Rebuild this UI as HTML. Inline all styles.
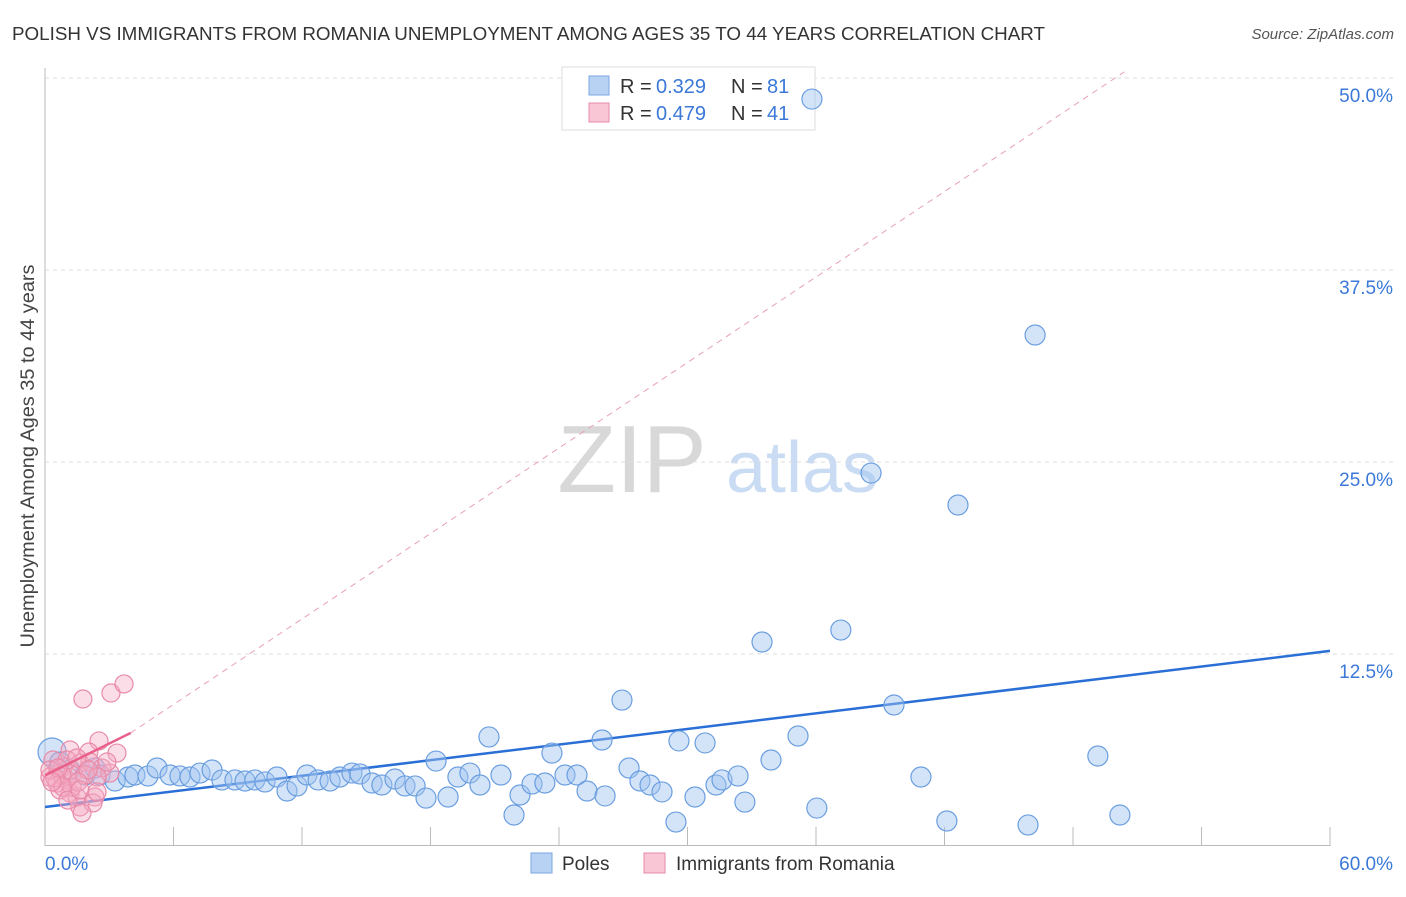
<!DOCTYPE html>
<html><head><meta charset="utf-8"><style>
body{margin:0;background:#fff;font-family:"Liberation Sans",sans-serif;}
svg text{font-family:"Liberation Sans",sans-serif;}
</style></head><body>
<svg id="chart" width="1406" height="892">
<text x="12" y="40" font-size="18" fill="#333" textLength="1033" lengthAdjust="spacingAndGlyphs">POLISH VS IMMIGRANTS FROM ROMANIA UNEMPLOYMENT AMONG AGES 35 TO 44 YEARS CORRELATION CHART</text>
<text x="1394" y="39" font-size="15" fill="#555" text-anchor="end" font-style="italic">Source: ZipAtlas.com</text>
<text x="34" y="456" font-size="19" fill="#444" text-anchor="middle" textLength="383" lengthAdjust="spacingAndGlyphs" transform="rotate(-90 34 456)">Unemployment Among Ages 35 to 44 years</text>
<g>
<text x="632" y="492" font-size="96" fill="#d8d8d8" text-anchor="middle" font-family="Liberation Serif,serif">ZIP</text>
<text x="802" y="492" font-size="72" fill="#c9dcf3" text-anchor="middle">atlas</text>
</g>
<g id="grid"></g><g id="axes"></g><g id="lines"></g>
<g>
<rect x="562" y="67" width="253" height="63" fill="#fff" stroke="#ddd"/>
<rect x="589" y="76" width="20" height="19" fill="#b8d2f4" stroke="#7aa6e0"/>
<rect x="589" y="103" width="20" height="19" fill="#f9c6d5" stroke="#e88aa8"/>
<text x="620" y="93" font-size="20" fill="#333">R =</text>
<text x="656" y="93" font-size="20" fill="#3b78d8">0.329</text>
<text x="731" y="93" font-size="20" fill="#333">N =</text>
<text x="767" y="93" font-size="20" fill="#3b78d8">81</text>
<text x="620" y="120" font-size="20" fill="#333">R =</text>
<text x="656" y="120" font-size="20" fill="#3b78d8">0.479</text>
<text x="731" y="120" font-size="20" fill="#333">N =</text>
<text x="767" y="120" font-size="20" fill="#3b78d8">41</text>
</g>
<g id="pts"></g>
<g>
<rect x="531" y="853" width="21" height="20" fill="#b8d2f4" stroke="#7aa6e0"/>
<text x="562" y="870" font-size="19" fill="#333">Poles</text>
<rect x="644" y="853" width="21" height="20" fill="#f9c6d5" stroke="#e88aa8"/>
<text x="676" y="870" font-size="19" fill="#333">Immigrants from Romania</text>
</g>
</svg>
<script>
const xTicks=[0,60];
const yTicks=[12.5,25,37.5,50];
const polesX=[0.33,0.70,1.17,1.87,2.33,2.57,3.27,3.88,4.20,4.81,5.23,5.84,6.30,6.77,7.24,7.80,8.26,8.87,9.34,9.80,10.27,10.83,11.30,11.77,12.23,12.75,13.31,13.77,14.33,14.71,15.27,15.73,16.34,16.81,17.28,17.79,18.26,18.82,19.28,19.84,20.31,20.73,21.29,21.90,22.18,22.74,23.34,23.67,24.28,24.84,25.31,26.15,26.01,26.94,27.27,27.78,28.25,28.81,29.46,29.60,30.35,30.82,31.33,31.61,32.36,32.68,33.48,33.90,35.16,35.81,36.04,37.16,38.57,39.64,40.90,42.11,42.63,45.90,46.23,49.16,50.19];
const polesY=[6.12,5.47,4.95,4.62,5.08,4.62,4.23,4.49,4.62,4.56,5.08,4.62,4.56,4.49,4.75,4.95,4.30,4.30,4.23,4.30,4.17,4.49,3.58,3.91,4.62,4.30,4.23,4.49,4.75,4.69,4.10,3.97,4.36,3.91,3.91,3.12,5.53,3.19,4.49,4.75,3.97,7.10,4.62,2.02,3.32,4.04,4.10,6.05,4.62,4.62,3.58,3.26,6.90,9.50,5.08,4.23,3.97,3.52,1.56,6.84,3.19,6.71,3.97,4.30,4.56,2.86,13.28,5.60,7.16,48.63,2.47,14.06,24.28,9.18,4.49,1.63,22.20,1.37,33.27,5.86,2.02];
const romX=[1.77,3.08,3.69,2.52,3.36,2.05,1.17,0.37,0.84,1.63,2.10,2.66,3.03,0.23,0.56,1.03,1.31,0.70,1.17,1.49,2.33,1.63,2.24,1.73,0.23,0.79,1.87,2.43,0.47,1.03,1.49,1.26,0.84,0.61,2.01,2.89,0.33,1.54,1.07,1.63,2.43];
const romY=[9.57,9.96,10.55,6.84,6.05,6.12,6.25,5.60,5.14,5.40,5.47,5.08,4.75,4.49,4.10,4.30,4.75,3.65,3.45,3.19,3.19,2.54,2.80,2.15,4.95,4.62,4.62,4.49,4.43,5.60,5.73,3.84,3.84,5.08,4.95,5.47,4.17,4.17,2.99,3.65,3.52];
const polesFit=[2.54,12.7];
const romFit=[4.6,7.36,50.4];
const NS='http://www.w3.org/2000/svg';
const X=v=>45+v/60*1285, Y=v=>846-v/12.5*192;
function mk(t,a,p){const e=document.createElementNS(NS,t);for(const k in a)e.setAttribute(k,a[k]);p.appendChild(e);return e;}
const grid=document.getElementById('grid'),axes=document.getElementById('axes'),lines=document.getElementById('lines'),pts=document.getElementById('pts');
yTicks.forEach(v=>{
 const l=mk('line',{x1:45,x2:1395,y1:Y(v),y2:Y(v),stroke:'#ddd','stroke-dasharray':'4,4'},grid);
 
 
 const t=mk('text',{x:1393,y:Y(v)+24,'font-size':19,fill:'#3b78d8','text-anchor':'end'},axes);
 t.textContent=v.toFixed(1)+'%';
 
 
});
mk('line',{x1:45,x2:45,y1:68,y2:846,stroke:'#bbb'},axes);
mk('line',{x1:45,x2:1330,y1:845.5,y2:845.5,stroke:'#bbb'},axes);
for(let i=0;i<=10;i++){const x=X(i*6);mk('line',{x1:x,x2:x,y1:827,y2:846,stroke:'#bbb'},axes);}
xTicks.forEach((v,i)=>{
 const t=mk('text',{x:i?1393:45,y:870,'font-size':19,fill:'#3b78d8','text-anchor':i?'end':'start'},axes);
 t.textContent=v.toFixed(1)+'%';
 
 
});
const bl=mk('line',{x1:X(0),y1:Y(polesFit[0]),x2:X(60),y2:Y(polesFit[1]),stroke:'#2a6fd6','stroke-width':2.5},lines);


const pd=mk('line',{x1:X(4),y1:Y(romFit[1]),x2:X(romFit[2]),y2:Y(50.4),stroke:'#e8a0b6','stroke-width':1,'stroke-dasharray':'6,5'},lines);


polesX.forEach((x,i)=>{
 const c=mk('circle',{cx:X(x),cy:Y(polesY[i]),r:i==0?14:10,fill:'rgba(160,196,240,0.45)',stroke:'#6a9ee0','stroke-width':1.2},pts);
 
 
});
romX.forEach((x,i)=>{
 const c=mk('circle',{cx:X(x),cy:Y(romY[i]),r:9,fill:'rgba(245,170,195,0.4)',stroke:'#e88aa8','stroke-width':1.2},pts);
 
 
});
const ps=mk('line',{x1:X(0),y1:Y(romFit[0]),x2:X(4),y2:Y(romFit[1]),stroke:'#e8608a','stroke-width':2.5},pts);


</script>
</body></html>
